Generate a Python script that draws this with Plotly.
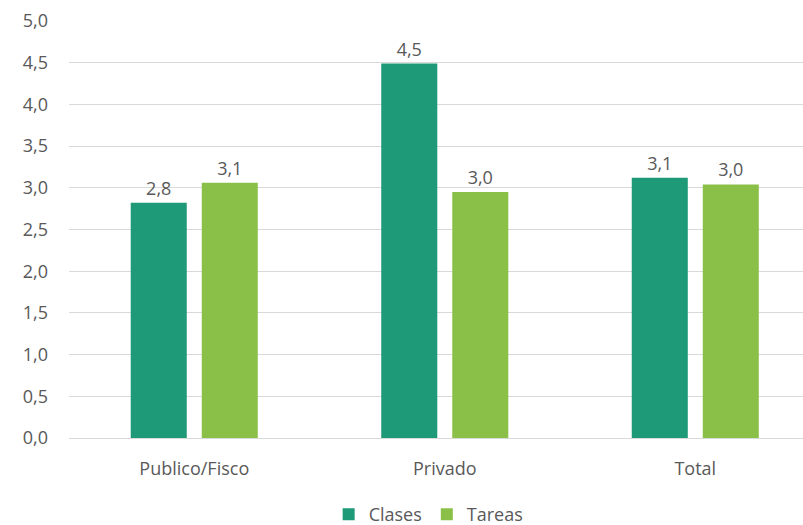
import plotly.graph_objects as go

categories = ["Publico/Fisco", "Privado", "Total"]
clases = [2.82, 4.49, 3.12]
tareas = [3.06, 2.95, 3.04]
y_ticks = [0, 0.5, 1.0, 1.5, 2.0, 2.5, 3.0, 3.5, 4.0, 4.5, 5.0]

font_color = "#595959"
fam = "Open Sans, Liberation Sans, sans-serif"
fs = 18

fig = go.Figure()
fig.add_trace(go.Bar(name="Clases", x=categories, y=clases,
                     marker=dict(color="#1E9A78", line=dict(width=0)),
                     texttemplate="%{y:.1f}", textposition="outside",
                     textfont=dict(size=fs, color=font_color, family=fam),
                     cliponaxis=False))
fig.add_trace(go.Bar(name="Tareas", x=categories, y=tareas,
                     marker=dict(color="#8BC048", line=dict(width=0)),
                     texttemplate="%{y:.1f}", textposition="outside",
                     textfont=dict(size=fs, color=font_color, family=fam),
                     cliponaxis=False))

fig.update_layout(
    width=803, height=525,
    margin=dict(l=69, r=0, t=21, b=87),
    paper_bgcolor="white", plot_bgcolor="white",
    separators=", ",
    barmode="group", bargap=0.433, bargroupgap=0.211,
    font=dict(family=fam, size=fs, color=font_color),
    showlegend=True,
    legend=dict(orientation="h", x=0.49, xanchor="center", xref="paper",
                yref="container", y=0.02, yanchor="middle",
                font=dict(size=fs, color=font_color), itemwidth=30),
    xaxis=dict(range=[-0.5, 2.43], showgrid=False, showline=True, linecolor="#d9d9d9",
               linewidth=1, ticks="", ticklabelstandoff=14,
               tickfont=dict(size=fs, color=font_color)),
    yaxis=dict(range=[0, 5], tickvals=y_ticks, tickformat=".1f", showgrid=True,
               gridcolor="#d9d9d9", gridwidth=1, zeroline=False, showline=False,
               ticks="", ticklabelstandoff=20, tickfont=dict(size=fs, color=font_color)),
)

fig.write_html("out.html", config={"displayModeBar": False},
               post_script="document.body.style.margin='0';")
